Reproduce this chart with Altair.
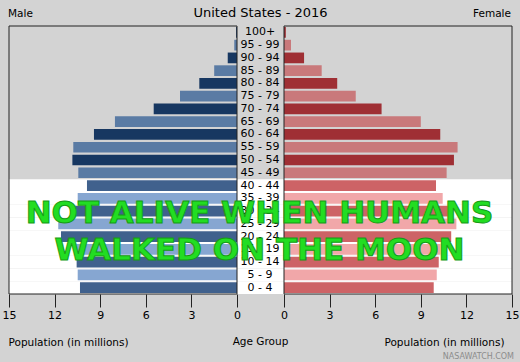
import altair as alt
import pandas as pd

# ---------------- data ----------------
ages = ["0 - 4", "5 - 9", "10 - 14", "15 - 19", "20 - 24", "25 - 29", "30 - 34",
        "35 - 39", "40 - 44", "45 - 49", "50 - 54", "55 - 59", "60 - 64", "65 - 69",
        "70 - 74", "75 - 79", "80 - 84", "85 - 89", "90 - 94", "95 - 99", "100+"]
male = [10.33, 10.48, 10.55, 10.70, 11.58, 11.76, 10.85, 10.48, 9.87, 10.44, 10.83,
        10.77, 9.41, 8.03, 5.48, 3.75, 2.48, 1.50, 0.61, 0.18, 0.06]
female = [9.85, 10.05, 10.18, 10.30, 11.00, 11.34, 10.80, 10.44, 10.00, 10.70, 11.18,
          11.42, 10.28, 9.00, 6.42, 4.72, 3.50, 2.48, 1.32, 0.46, 0.12]
x_ticks = [0, 3, 6, 9, 12, 15]
chart_title = "United States - 2016"
left_label = "Male"
right_label = "Female"
axis_title = "Population (in millions)"
middle_title = "Age Group"
overlay_line1 = "NOT ALIVE WHEN HUMANS"
overlay_line2 = "WALKED ON THE MOON"
credit = "NASAWATCH.COM"
youngest_pre_moon = "40 - 44"   # groups up to here were born after the last moon walk

# ---------------- table ----------------
n = len(ages)
cut = ages.index(youngest_pre_moon)
df = pd.DataFrame({"age": ages, "male": male, "female": female})
tone = ["dark" if i % 2 == 0 else "light" for i in range(n)]
era = ["post" if i <= cut else "pre" for i in range(n)]
df["mkey"] = ["M " + e + " " + t for e, t in zip(era, tone)]
df["fkey"] = ["F " + e + " " + t for e, t in zip(era, tone)]
df["post"] = [e == "post" for e in era]
order = ages[::-1]

W, H = 503, 268
PW = 228
FONT = "DejaVu Sans"

color_scale = alt.Scale(
    domain=["M pre dark", "M pre light", "M post dark", "M post light",
            "F pre dark", "F pre light", "F post dark", "F post light"],
    range=["#173761", "#5a7ba4", "#40618d", "#86a6d1",
           "#9f2f34", "#c9797b", "#cd6366", "#f1a7a9"])

mscale = alt.Scale(domain=[0, 15], range=[0, PW], reverse=True)
fscale = alt.Scale(domain=[0, 15], range=[W - PW, W])
y_full = alt.Scale(domain=order, paddingInner=0, paddingOuter=0)
y_bar = alt.Scale(domain=order, paddingInner=0.16, paddingOuter=0.08)

base = alt.Chart(df)

white_bg = base.transform_filter("datum.post").mark_rect(color="white").encode(
    x=alt.value(0), x2=alt.value("width"),
    y=alt.Y("age:N", scale=y_full, axis=None))

axis_common = dict(values=x_ticks, orient="bottom", format="d",
                   titleAlign="left", titleBaseline="alphabetic", titleY=51)

male_bars = base.mark_bar().encode(
    x=alt.X("male:Q", scale=mscale,
            axis=alt.Axis(title=axis_title, titleX=-1, titleAlign="left",
                          values=x_ticks, orient="bottom", format="d",
                          titleBaseline="alphabetic", titleY=51)),
    y=alt.Y("age:N", scale=y_bar, axis=None),
    color=alt.Color("mkey:N", scale=color_scale, legend=None))

female_bars = base.mark_bar().encode(
    x=alt.X("female:Q", scale=fscale,
            axis=alt.Axis(title=axis_title, titleX=W - 8, titleAlign="right",
                          values=x_ticks, orient="bottom", format="d",
                          titleBaseline="alphabetic", titleY=51)),
    y=alt.Y("age:N", scale=y_bar, axis=None),
    color=alt.Color("fkey:N", scale=color_scale, legend=None))

one = pd.DataFrame({"k": [0]})
male_frame = alt.Chart(one).mark_rect(fill="transparent", stroke="#222222", strokeWidth=1).encode(
    x=alt.X(datum=0, scale=mscale, axis=None), x2=alt.X2(datum=15),
    y=alt.value(0), y2=alt.value("height"))
female_frame = alt.Chart(one).mark_rect(fill="transparent", stroke="#222222", strokeWidth=1).encode(
    x=alt.X(datum=0, scale=fscale, axis=None), x2=alt.X2(datum=15),
    y=alt.value(0), y2=alt.value("height"))

age_labels = base.mark_text(font=FONT, fontSize=11, color="black", align="center",
                            baseline="middle").encode(
    x=alt.value((PW + W - PW) / 2 - 0.5),
    y=alt.Y("age:N", scale=y_full, axis=None),
    text="age:N")


def label(txt, x, y, size, align="left", weight="normal", color="black", **kw):
    return alt.Chart(pd.DataFrame({"t": [txt]})).mark_text(
        font=FONT, fontSize=size, align=align, baseline="alphabetic",
        fontWeight=weight, color=color, **kw).encode(
        text="t:N", x=alt.value(x), y=alt.value(y))


title_t = label(chart_title, W / 2, -9, 13, align="center")
male_t = label(left_label, -1, -9, 10.5)
female_t = label(right_label, W - 1, -9, 10.5, align="right")
age_t = label(middle_title, W / 2, H + 51, 10.5, align="center")
credit_t = label(credit, W + 2, H + 65, 8, align="right", color="#8c8c8c")
green1 = label(overlay_line1, W / 2 - 1, 196.5, 31, align="center", weight="bold",
               color="#22dd22", stroke="#169a16", strokeWidth=1)
green2 = label(overlay_line2, W / 2 - 1, 233.5, 31, align="center", weight="bold",
               color="#22dd22", stroke="#169a16", strokeWidth=1)

chart = alt.layer(
    white_bg, male_bars, female_bars, male_frame, female_frame, age_labels,
    title_t, male_t, female_t, age_t, credit_t, green1, green2
).resolve_scale(x="independent", y="independent").properties(
    width=W, height=H,
    autosize=alt.AutoSizeParams(type="none"),
    padding={"left": 9, "top": 26, "right": 8, "bottom": 68},
    background="#d3d3d3",
).configure_view(stroke=None).configure_axis(
    labelFont=FONT, labelFontSize=11, labelColor="black", labelPadding=2,
    labelFlush=False, tickColor="#222222", tickSize=13, tickWidth=1,
    domain=False, grid=False,
    titleFont=FONT, titleFontSize=10.5, titleFontWeight="normal", titleColor="black")

chart.save("out.html", embed_options={"renderer": "svg", "actions": False})
